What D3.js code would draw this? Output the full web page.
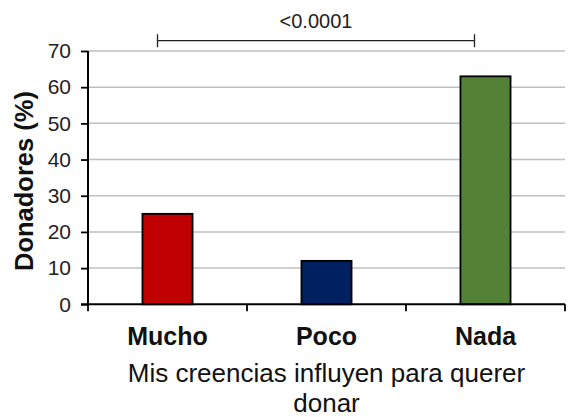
<!DOCTYPE html>
<html><head><meta charset="utf-8">
<script src="https://cdn.jsdelivr.net/npm/d3@7"></script>
<style>body{margin:0;background:#fff}svg{display:block}text{font-family:"Liberation Sans",Arial,sans-serif}</style>
</head><body><svg id="c" width="569" height="417"></svg>
<script>
const categories = ["Mucho", "Poco", "Nada"];
const values = [25, 12, 63];
const colors = ["#C00000", "#002060", "#538135"];
const yTicks = [0, 10, 20, 30, 40, 50, 60, 70];
const pLabel = "<0.0001";
const yTitle = "Donadores (%)";
const xTitleLines = ["Mis creencias influyen para querer", "donar"];

const svg = d3.select("#c");
const L = 88, R = 565, T = 51, B = 304.3;
const x = d3.scaleBand().domain(categories).range([L, R]).padding(0);
const y = d3.scaleLinear().domain([0, 70]).range([B, T]);
const bw = x.bandwidth() * 0.315;

// gridlines
svg.append("g").selectAll("line").data(yTicks.filter(d => d > 0)).join("line")
  .attr("x1", L).attr("x2", R).attr("y1", d => y(d)).attr("y2", d => y(d))
  .attr("stroke", "#bfbfbf").attr("stroke-width", 1.5);

// bars
svg.append("g").selectAll("rect").data(categories).join("rect")
  .attr("x", d => x(d) + x.bandwidth() / 2 - bw / 2)
  .attr("width", bw)
  .attr("y", (d, i) => y(values[i]))
  .attr("height", (d, i) => y(0) - y(values[i]))
  .attr("fill", (d, i) => colors[i])
  .attr("stroke", "#000").attr("stroke-width", 1.8);

// y axis
const ya = svg.append("g").attr("transform", `translate(${L},0)`)
  .call(d3.axisLeft(y).tickValues(yTicks).tickSize(7).tickPadding(10).tickFormat(d3.format("d")));
ya.select(".domain").attr("stroke", "#000").attr("stroke-width", 2).attr("d", `M0,${T}V${B}`);
ya.selectAll(".tick line").attr("stroke", "#000").attr("stroke-width", 1.8);
ya.selectAll(".tick text").attr("font-size", 21).attr("fill", "#222")
  .attr("font-family", "Liberation Sans, Arial, sans-serif");

// x axis
const xa = svg.append("g").attr("transform", `translate(0,${B})`);
xa.append("line").attr("x1", L - 7).attr("x2", R).attr("y1", 0).attr("y2", 0)
  .attr("stroke", "#000").attr("stroke-width", 2);
const bounds = categories.map(c => x(c)).concat([x(categories[categories.length - 1]) + x.bandwidth()]);
xa.selectAll("line.t").data(bounds).join("line").attr("class", "t")
  .attr("x1", d => d).attr("x2", d => d).attr("y1", 0).attr("y2", 7)
  .attr("stroke", "#000").attr("stroke-width", 1.8);
xa.selectAll("text.c").data(categories).join("text").attr("class", "c")
  .attr("x", d => x(d) + x.bandwidth() / 2).attr("y", 41)
  .attr("text-anchor", "middle").attr("font-size", 25).attr("font-weight", "bold")
  .attr("fill", "#111").text(d => d);

// x title
svg.append("g").selectAll("text").data(xTitleLines).join("text")
  .attr("x", (L + R) / 2).attr("y", (d, i) => 382 + i * 29.5)
  .attr("text-anchor", "middle").attr("font-size", 26).attr("fill", "#111").text(d => d);

// y title
svg.append("text").attr("transform", `translate(33,181) rotate(-90)`)
  .attr("text-anchor", "middle").attr("font-size", 25.5).attr("font-weight", "bold")
  .attr("fill", "#111").text(yTitle);

// significance bracket
const bx1 = x(categories[0]) + x.bandwidth() / 2 - 10;
const bx2 = x(categories[2]) + x.bandwidth() / 2 - 11;
const by = 40.7;
const br = svg.append("g").attr("stroke", "#222").attr("stroke-width", 1.3);
br.append("line").attr("x1", bx1).attr("x2", bx2).attr("y1", by).attr("y2", by);
br.append("line").attr("x1", bx1).attr("x2", bx1).attr("y1", by - 6.5).attr("y2", by + 6.5);
br.append("line").attr("x1", bx2).attr("x2", bx2).attr("y1", by - 6.5).attr("y2", by + 6.5);
svg.append("text").attr("x", (bx1 + bx2) / 2).attr("y", 27.5).attr("text-anchor", "middle")
  .attr("font-size", 20).attr("fill", "#222").text(pLabel);
</script></body></html>
